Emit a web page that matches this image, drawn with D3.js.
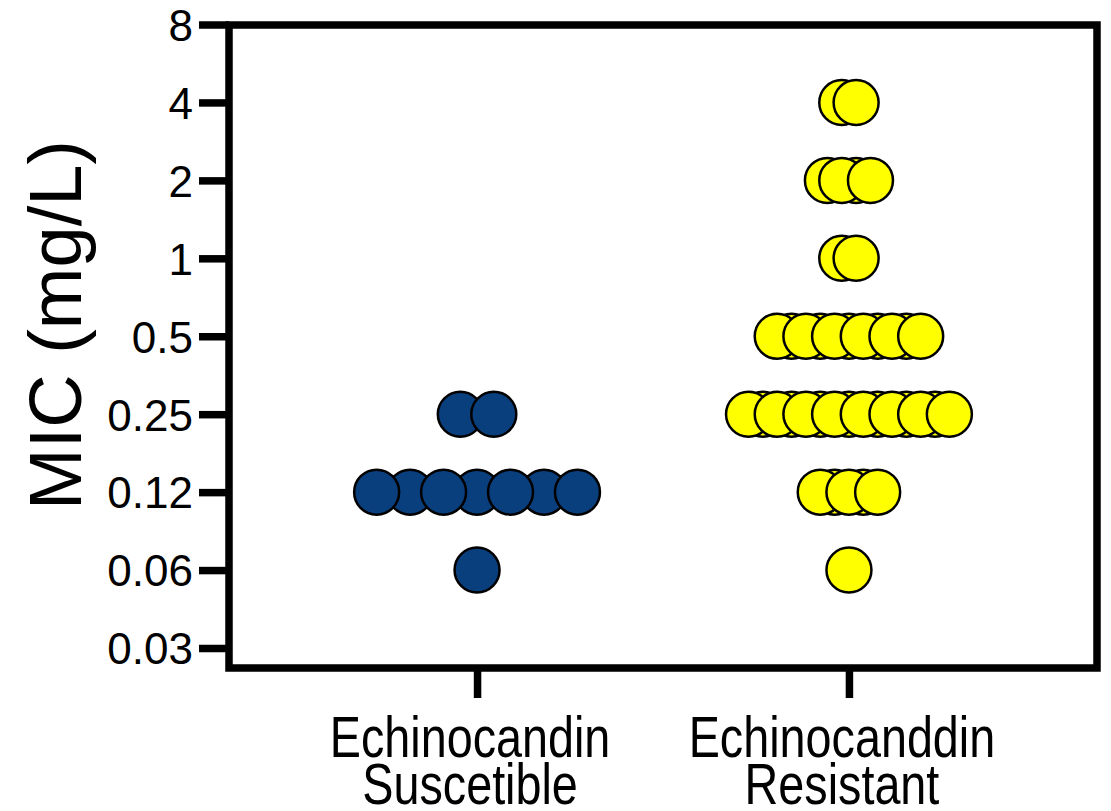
<!DOCTYPE html>
<html>
<head>
<meta charset="utf-8">
<script src="https://cdn.jsdelivr.net/npm/d3@7"></script>
<style>
  html, body { margin: 0; padding: 0; background: #fff; }
  svg { display: block; }
</style>
</head>
<body>
<svg id="chart" width="1111" height="811"></svg>
<script>
// ---------------- DATA ----------------
const categories = ["Echinocandin Suscetible", "Echinocanddin Resistant"];
const categoryLines = [["Echinocandin", "Suscetible"], ["Echinocanddin", "Resistant"]];
const tickValues = [0.03125, 0.0625, 0.125, 0.25, 0.5, 1, 2, 4, 8];
const tickLabels = ["0.03", "0.06", "0.12", "0.25", "0.5", "1", "2", "4", "8"];
const yTitle = "MIC (mg/L)";

// MIC values of each isolate (mg/L)
const susceptibleMIC = [
  0.0625,
  0.125, 0.125, 0.125, 0.125, 0.125, 0.125, 0.125,
  0.25, 0.25
];
const resistantMIC = [
  0.0625,
  0.125, 0.125, 0.125, 0.125, 0.125,
  0.25, 0.25, 0.25, 0.25, 0.25, 0.25, 0.25, 0.25, 0.25, 0.25, 0.25, 0.25, 0.25, 0.25, 0.25,
  0.5, 0.5, 0.5, 0.5, 0.5, 0.5, 0.5, 0.5, 0.5, 0.5, 0.5,
  1, 1,
  2, 2, 2, 2,
  4, 4
];
const groupValues = [susceptibleMIC, resistantMIC];
const groupColors = ["#0a3f7e", "#ffff00"];

// ---------------- LAYOUT ----------------
(function () {
const svg = d3.select("#chart");
const pLeft = 229, pRight = 1097, pTop = 24.5, pBottom = 648, frameBottom = 668;
const frameTop = 25;
const font = "'Liberation Sans', Arial, Helvetica, sans-serif";
const rad = 22.5;

const y = d3.scaleLog().base(2).domain([tickValues[0], tickValues[tickValues.length - 1]]).range([pBottom, pTop]);
const x = d3.scalePoint().domain(categories).range([pLeft, pRight]).padding(0.667);
const swarmWidth = x.step() * 0.54;

// Frame
const lw = 7.5;
svg.append("path")
  .attr("d", `M${pLeft},${frameTop} H${pRight} V${frameBottom} H${pLeft} Z`)
  .attr("fill", "none").attr("stroke", "#000").attr("stroke-width", lw)
  .attr("stroke-linejoin", "miter");

// Y axis
const yAxis = d3.axisLeft(y).tickValues(tickValues)
  .tickFormat((d, i) => tickLabels[i]).tickSize(30).tickPadding(6);
const gy = svg.append("g").attr("transform", `translate(${pLeft},0)`).call(yAxis);
gy.select(".domain").remove();
gy.selectAll(".tick line").attr("stroke", "#000").attr("stroke-width", lw);
gy.selectAll(".tick text").attr("font-family", font).attr("font-size", 44)
  .attr("fill", "#000").attr("dy", "0.36em");

// X axis
const xAxis = d3.axisBottom(x).tickSize(30).tickFormat("");
const gx = svg.append("g").attr("transform", `translate(0,${frameBottom})`).call(xAxis);
gx.select(".domain").remove();
gx.selectAll(".tick line").attr("stroke", "#000").attr("stroke-width", lw);

// X labels (two lines, condensed)
const sx = 0.82;
categories.forEach((c, i) => {
  const cx = x(c) - 7;
  const t = svg.append("text")
    .attr("transform", `translate(${cx},757) scale(${sx},1)`)
    .attr("text-anchor", "middle")
    .attr("font-family", font)
    .attr("font-size", 57).attr("fill", "#000");
  categoryLines[i].forEach((line, k) => {
    t.append("tspan").attr("x", 0).attr("y", k === 0 ? 0 : 47).text(line);
  });
});

// Y title
svg.append("text")
  .attr("transform", `translate(81,${325}) rotate(-90)`)
  .attr("text-anchor", "middle")
  .attr("font-family", font).attr("font-size", 74).attr("fill", "#000")
  .text(yTitle);

// Points (column scatter: rows per MIC value, spread evenly)
groupValues.forEach((vals, gi) => {
  const rows = d3.groups(vals, d => d);
  const maxN = d3.max(rows, r => r[1].length);
  const spacing = maxN > 1 ? swarmWidth / (maxN - 1) : 0;
  const pts = [];
  rows.forEach(([v, arr]) => {
    const n = arr.length;
    const topParity = n % 2 === 0 ? 1 : 0;
    arr.forEach((d, i) => {
      pts.push({
        v: d,
        cx: x(categories[gi]) + (i - (n - 1) / 2) * spacing,
        order: (i % 2 === topParity ? 1 : 0)
      });
    });
  });
  pts.sort((a, b) => a.order - b.order);
  svg.append("g").selectAll("circle").data(pts).join("circle")
    .attr("cx", d => d.cx)
    .attr("cy", d => y(d.v))
    .attr("r", rad)
    .attr("fill", groupColors[gi])
    .attr("stroke", "#000")
    .attr("stroke-width", 2.5);
});
})();
</script>
</body>
</html>
